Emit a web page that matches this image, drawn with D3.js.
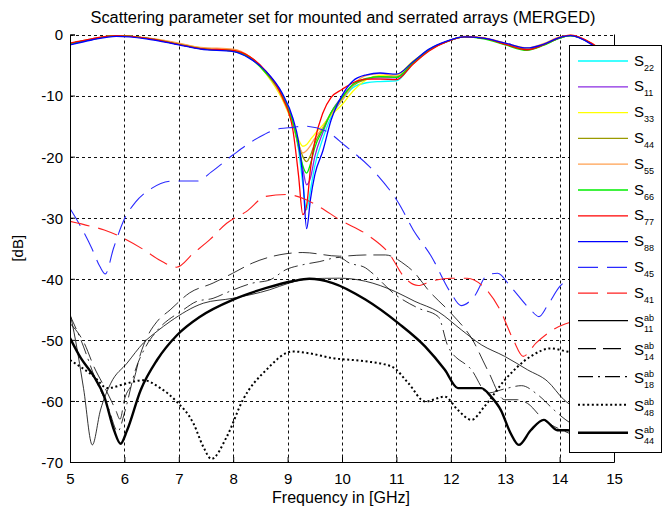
<!DOCTYPE html>
<html lang="en">
<head>
<meta charset="UTF-8">
<title>Scattering parameter set for mounted and serrated arrays (MERGED)</title>
<script src="https://cdnjs.cloudflare.com/ajax/libs/d3/7.8.5/d3.min.js"></script>
<style>
    body { margin: 0; background: #fff; }
    svg { display: block; font-family: "Liberation Sans", Arial, sans-serif; }
</style>
</head>
<body>
<div id="chart"></div>
<script>
// ---- data ----
const freqS = [5, 5.4, 5.85, 6.4, 7.0, 7.4, 8.0, 8.3, 8.6, 8.9, 9.1, 9.2, 9.28, 9.35, 9.42, 9.5, 9.65, 9.8, 10.0, 10.2,
               10.45, 10.7, 11.0, 11.3, 11.6, 11.95, 12.25, 12.6, 13.0, 13.4, 13.7, 14.0, 14.2, 14.6, 15];
const s22 = [-1.6,-0.8,-0.2,-0.6,-1.6,-2.3,-2.7,-3.8,-6.1,-9.9,-14.5,-18.8,-24.5,-28.7,-25.5,-21.5,-17.0,-13.5,-10.8,-8.7,
             -7.9,-7.7,-7.6,-4.8,-2.6,-1.1,-0.4,-0.6,-1.5,-2.4,-1.7,-0.6,-0.2,-1.6,-4.5];
const s11 = [-1.6,-0.8,-0.2,-0.6,-1.6,-2.3,-2.7,-3.7,-6.1,-9.8,-14.3,-18.4,-22.0,-24.6,-23.5,-20.0,-16.0,-12.8,-10.2,-8.2,
             -7.3,-7.1,-7.1,-4.7,-2.5,-1.1,-0.4,-0.6,-1.5,-2.4,-1.7,-0.6,-0.2,-1.6,-4.5];
const s33 = [-1.5,-0.8,-0.2,-0.6,-1.5,-2.2,-2.6,-3.6,-6.4,-10.6,-14.8,-17.2,-18.3,-18.0,-17.2,-16.3,-14.8,-13.2,-11.5,-9.3,
             -7.4,-6.7,-6.6,-4.4,-2.5,-1.1,-0.4,-0.6,-1.5,-2.3,-1.6,-0.5,-0.2,-1.6,-4.5];
const s44 = [-1.5,-0.8,-0.2,-0.6,-1.6,-2.3,-2.7,-3.7,-6.2,-10.2,-14.6,-17.8,-20.0,-20.8,-19.8,-17.8,-15.3,-12.8,-10.5,-8.4,
             -7.3,-6.9,-7.0,-4.6,-2.5,-1.1,-0.4,-0.6,-1.5,-2.4,-1.7,-0.6,-0.2,-1.6,-4.5];
const s55 = [-1.5,-0.7,-0.2,-0.5,-1.4,-2.1,-2.4,-3.6,-6.3,-10.3,-14.8,-18.0,-19.4,-19.0,-18.2,-17.0,-15.2,-13.0,-10.8,-8.3,
             -6.7,-6.4,-6.8,-4.8,-2.6,-1.1,-0.3,-0.5,-1.4,-2.2,-1.5,-0.4,-0.1,-1.5,-4.5];
const s66 = [-1.5,-0.8,-0.2,-0.6,-1.6,-2.3,-2.7,-3.8,-6.3,-10.0,-14.5,-18.2,-21.5,-22.7,-21.2,-18.5,-15.6,-12.8,-10.3,-8.2,
             -7.2,-6.9,-7.0,-4.7,-2.5,-1.1,-0.4,-0.7,-1.7,-2.6,-1.8,-0.6,-0.2,-1.6,-4.5];
const s77 = [-1.4,-0.7,-0.2,-0.6,-1.6,-2.3,-2.6,-3.6,-6.0,-10.2,-15.8,-23.0,-29.5,-28.0,-22.0,-17.5,-12.8,-10.3,-9.0,-7.9,
             -7.3,-7.3,-7.4,-4.9,-2.7,-1.1,-0.4,-0.6,-1.6,-2.5,-1.7,-0.5,-0.1,-1.5,-4.5];
const s88 = [-1.7,-0.9,-0.3,-0.7,-1.7,-2.4,-2.8,-3.9,-6.0,-9.6,-13.8,-17.5,-23.5,-31.8,-27.0,-23.0,-19.0,-14.0,-10.0,-7.6,
             -6.6,-6.3,-6.5,-4.5,-2.4,-1.0,-0.4,-0.6,-1.4,-2.2,-1.6,-0.5,-0.2,-1.7,-4.5];

const s45F = [5, 5.2, 5.4, 5.55, 5.65, 5.8, 6.0, 6.2, 6.5, 6.9, 7.35, 7.6, 8.0, 8.5, 8.86, 9.1, 9.3, 9.7, 10.07, 10.62,
              11.04, 11.31, 11.64, 12.0, 12.19, 12.43, 12.68, 12.86, 13.1, 13.46, 13.62, 13.77, 14.0, 14.3, 15];
const s45 = [-28.5,-31.5,-35,-38,-39.2,-35,-30.2,-27.5,-25.2,-24,-24,-22.5,-19.7,-16.7,-15.4,-15.2,-15,-15.8,-18.3,-22.7,
             -27.6,-32,-36.3,-42.3,-44.4,-42.9,-39.3,-39.1,-41.3,-45,-46.2,-44.5,-41.3,-39.5,-38];

const s41F = [5, 5.38, 5.63, 5.9, 6.35, 6.66, 6.96, 7.27, 7.57, 7.88, 8.24, 8.6, 8.97, 9.33, 9.6, 9.95, 10.5, 10.86, 11.16, 11.4,
              11.64, 12.0, 12.3, 12.6, 12.9, 13.15, 13.33, 13.57, 13.87, 14.1, 15];
const s41 = [-30.6,-31.4,-32,-33,-35.2,-37,-38.1,-35.8,-33.6,-30.9,-29,-26.5,-26.2,-27,-28.3,-30.3,-33,-35.8,-39.9,-41.1,
             -40.4,-39.9,-39.9,-41.3,-45,-50,-52.7,-50.5,-48.4,-47.4,-46];

const ab11F = [5, 5.1, 5.25, 5.41, 5.56, 5.75, 6.05, 6.35, 6.6, 6.84, 7.45, 7.99, 8.67, 9.03, 9.4, 9.95, 10.43, 10.98, 11.34, 11.77,
               12.2, 12.56, 12.99, 13.41, 13.78, 14.08, 14.5, 15];
const ab11 = [-45.6,-50,-58,-67.2,-61.5,-57.1,-53.8,-50.5,-48.6,-47,-44,-43.2,-41.8,-40.7,-40,-39.9,-40.4,-42.1,-43.7,-45.4,
              -48.4,-50.8,-52.7,-54.9,-56.8,-59.8,-62,-63];

const ab14F = [5, 5.26, 5.44, 5.65, 5.84, 5.92, 6.0, 6.17, 6.3, 6.42, 6.6, 6.84, 7.2, 7.63, 7.99, 8.36, 8.97, 9.28, 9.95, 10.43,
               10.8, 11.16, 11.31, 11.6, 12.0, 12.4, 12.68, 12.99, 13.23, 13.41, 13.71, 14.1, 15];
const ab14 = [-47.3,-50.5,-54.4,-58,-61.5,-63,-59.8,-56.6,-52.2,-49.5,-47,-45.1,-42.3,-40.7,-39.1,-37.4,-35.9,-35.7,-36.3,-36.1,
              -36.1,-37.7,-38.8,-42,-45.6,-50,-55,-59.8,-59.8,-60.4,-63.1,-65,-67];

const ab18F = [5, 5.2, 5.45, 5.7, 5.88, 6.0, 6.2, 6.4, 6.6, 7.08, 7.33, 7.63, 7.87, 8.36, 8.67, 8.97, 9.28, 9.58, 9.95, 10.13,
               10.43, 10.52, 10.98, 11.4, 11.77, 11.95, 12.38, 12.68, 13.0, 13.3, 13.6, 13.9, 14.1, 15];
const ab18 = [-46,-50,-56,-61,-65,-62,-55,-51,-48.5,-45.1,-43.7,-43.2,-42.3,-40.7,-40.2,-38.5,-37.7,-37.2,-36.5,-37.4,
              -38.2,-38.8,-42.6,-44.8,-46.2,-51.1,-54.9,-58.7,-58,-57.5,-59,-61.5,-63,-66];

const ab48F = [5, 5.44, 5.69, 6.05, 6.35, 6.66, 6.96, 7.27, 7.45, 7.6, 7.88, 8.18, 8.61, 9.09, 9.4, 9.83, 10.43, 10.92, 11.22, 11.53,
               11.89, 12.13, 12.38, 12.62, 12.99, 13.47, 13.84, 14.13, 15];
const ab48 = [-53.3,-56,-57.9,-57.1,-56.6,-57.9,-60.1,-63.7,-67.5,-69.5,-65.9,-59.8,-54.9,-51.9,-52.2,-53,-53.5,-54.4,-57.1,-60.1,
              -59.3,-61.5,-63.1,-60.9,-56.6,-52.7,-51.4,-51.9,-53];

const ab44F = [5, 5.2, 5.44, 5.63, 5.81, 5.93, 6.05, 6.3, 6.6, 6.97, 7.39, 8.0, 8.61, 9.09, 9.4, 9.83, 10.43, 11.04, 11.53, 11.89,
               12.13, 12.56, 12.74, 12.92, 13.1, 13.25, 13.47, 13.71, 13.96, 14.13, 15];
const ab44 = [-49.7,-53,-56,-59.3,-64.8,-67,-64.8,-58.2,-53.3,-49.2,-46.2,-43.4,-41.5,-40.4,-40,-40.7,-43.4,-47.3,-51.1,-54.9,
              -57.9,-57.9,-59.3,-61.5,-65.3,-67.2,-64.8,-63.1,-64.8,-64.8,-66];

const xTicks = [5, 6, 7, 8, 9, 10, 11, 12, 13, 14, 15];
const yTicks = [0, -10, -20, -30, -40, -50, -60, -70];
const legendSub = ["22", "11", "33", "44", "55", "66", "77", "88", "45", "41", "11", "14", "18", "48", "44"];
const legendSup = ["", "", "", "", "", "", "", "", "", "", "ab", "ab", "ab", "ab", "ab"];

// ---- styles per series (same order as legend) ----
const styles = [
    {color: "#00ffff", width: 1.3, dash: null},
    {color: "#8a2be2", width: 1.3, dash: null},
    {color: "#ffff00", width: 1.3, dash: null},
    {color: "#9a9a00", width: 1.3, dash: null},
    {color: "#ffa050", width: 1.3, dash: null},
    {color: "#00ee00", width: 1.3, dash: null},
    {color: "#ff0000", width: 1.3, dash: null},
    {color: "#0000ff", width: 1.3, dash: null},
    {color: "#2a2aff", width: 1.1, dash: "20,9"},
    {color: "#ff2020", width: 1.1, dash: "20,9"},
    {color: "#000", width: 0.8, dash: null},
    {color: "#000", width: 0.8, dash: "18,7"},
    {color: "#000", width: 0.8, dash: "15,5,2,5"},
    {color: "#000", width: 2.0, dash: "2,2.6"},
    {color: "#000", width: 2.4, dash: null}
];

const zipS = vals => freqS.map((f, i) => [f, vals[i]]);
const zip = (fs, vals) => fs.map((f, i) => [f, vals[i]]);
const seriesData = [
    zipS(s22), zipS(s11), zipS(s33), zipS(s44), zipS(s55), zipS(s66), zipS(s77), zipS(s88),
    zip(s45F, s45), zip(s41F, s41),
    zip(ab11F, ab11), zip(ab14F, ab14), zip(ab18F, ab18), zip(ab48F, ab48), zip(ab44F, ab44)
];

// ---- chart ----
const W = 668, H = 513;
const pLeft = 70, pRight = 614, pTop = 34.5, pBottom = 462;

const svg = d3.select("#chart").append("svg")
    .attr("width", W).attr("height", H);
svg.append("rect").attr("width", W).attr("height", H).attr("fill", "#fff");

const x = d3.scaleLinear().domain([5, 15]).range([pLeft, pRight]);
const y = d3.scaleLinear().domain([-70, 0]).range([pBottom, pTop]);

// grid
const grid = svg.append("g").attr("stroke", "#111").attr("stroke-width", 1)
    .attr("stroke-dasharray", "3,3").attr("fill", "none");
grid.selectAll(".gx").data(xTicks.slice(1, -1)).enter().append("line")
    .attr("x1", d => Math.round(x(d)) + 0.5).attr("x2", d => Math.round(x(d)) + 0.5)
    .attr("y1", pTop).attr("y2", pBottom);
grid.selectAll(".gy").data(yTicks.slice(0, -1)).enter().append("line")
    .attr("x1", pLeft).attr("x2", pRight)
    .attr("y1", d => Math.round(y(d)) + 0.5).attr("y2", d => Math.round(y(d)) + 0.5);

// clip
svg.append("clipPath").attr("id", "plotclip").append("rect")
    .attr("x", pLeft).attr("y", pTop - 2).attr("width", pRight - pLeft).attr("height", pBottom - pTop + 2);

const line = d3.line()
    .x(d => x(d[0]))
    .y(d => y(d[1]))
    .curve(d3.curveMonotoneX);

svg.append("g").attr("clip-path", "url(#plotclip)")
    .selectAll("path").data(seriesData).enter().append("path")
    .attr("d", line)
    .attr("fill", "none")
    .attr("stroke", (d, i) => styles[i].color)
    .attr("stroke-width", (d, i) => styles[i].width)
    .attr("stroke-dasharray", (d, i) => styles[i].dash)
    .attr("stroke-linejoin", "round");

// axes (plain hyphen minus like the original)
const fmt = d => String(d);
const xAxis = d3.axisBottom(x).tickValues(xTicks).tickSize(-5).tickPadding(11).tickFormat(fmt);
const yAxis = d3.axisLeft(y).tickValues(yTicks).tickSize(-5).tickPadding(7).tickFormat(fmt);

const gx = svg.append("g").attr("transform", `translate(0,${pBottom})`).call(xAxis);
const gy = svg.append("g").attr("transform", `translate(${pLeft},0)`).call(yAxis);
[gx, gy].forEach(g => {
    g.select(".domain").attr("stroke", "#000");
    g.selectAll(".tick line").attr("stroke", "#000");
    g.selectAll("text").attr("fill", "#000").style("font-size", "15px")
        .style("font-family", "'Liberation Sans', Arial, sans-serif");
});
gy.selectAll("text").attr("dy", "0.36em");
// right border
svg.append("line").attr("x1", pRight + 0.5).attr("x2", pRight + 0.5).attr("y1", pTop).attr("y2", pBottom)
    .attr("stroke", "#000");

// titles
svg.append("text").attr("x", 343).attr("y", 23)
    .attr("text-anchor", "middle").style("font-size", "16px")
    .attr("textLength", 505).attr("lengthAdjust", "spacingAndGlyphs")
    .text("Scattering parameter set for mounted and serrated arrays (MERGED)");
svg.append("text").attr("x", 341).attr("y", 503)
    .attr("text-anchor", "middle").style("font-size", "16px")
    .text("Frequency in [GHz]");
svg.append("text").attr("transform", `translate(23,${(pTop + pBottom) / 2}) rotate(-90)`)
    .attr("text-anchor", "middle").style("font-size", "15px")
    .text("[dB]");

// legend
const lg = svg.append("g");
lg.append("rect").attr("x", 569.5).attr("y", 45.5).attr("width", 92).attr("height", 407)
    .attr("fill", "#fff").attr("stroke", "#000").attr("stroke-width", 1);

let ly = 61;
legendSub.forEach((sub, i) => {
    const st = styles[i];
    const sup = legendSup[i];
    if (i > 0) ly += sup ? (legendSup[i - 1] ? 28 : 27.5) : 25.8;
    lg.append("line").attr("x1", 578).attr("x2", 628).attr("y1", ly).attr("y2", ly)
        .attr("stroke", st.color).attr("stroke-width", Math.max(st.width, 1.2))
        .attr("stroke-dasharray", st.dash);
    lg.append("text").attr("x", 634).attr("y", ly + (sup ? 6 : 4.5))
        .style("font-size", "15px").text("S");
    if (sup) {
        lg.append("text").attr("x", 644).attr("y", ly + 0.5).style("font-size", "9px").text(sup);
        lg.append("text").attr("x", 644).attr("y", ly + 11).style("font-size", "9px").text(sub);
    } else {
        lg.append("text").attr("x", 644).attr("y", ly + 9.5).style("font-size", "9px").text(sub);
    }
});
</script>
</body>
</html>
